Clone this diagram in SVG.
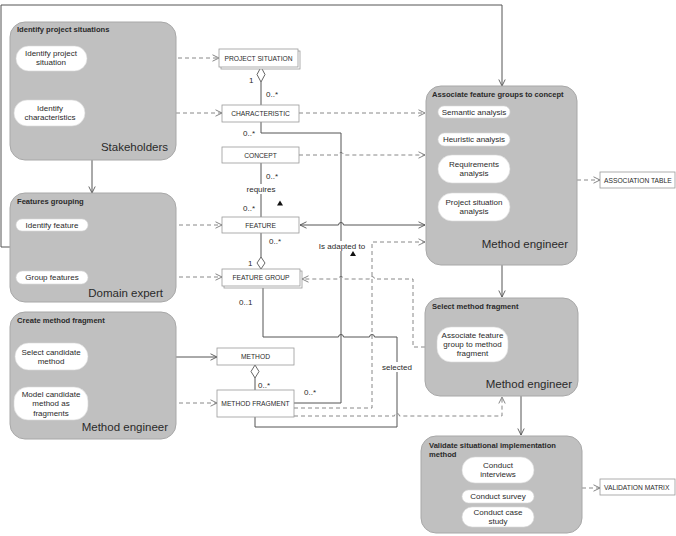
<svg xmlns="http://www.w3.org/2000/svg" width="676" height="536" viewBox="0 0 676 536">
<defs>
<marker id="arr" viewBox="0 0 8 8" refX="7.5" refY="4" markerWidth="8" markerHeight="8" markerUnits="userSpaceOnUse" orient="auto-start-reverse">
<path d="M1,0.8 L7.5,4 L1,7.2" fill="none" stroke="#555" stroke-width="0.9"/>
</marker>
<marker id="arrd" viewBox="0 0 8 8" refX="7.5" refY="4" markerWidth="8" markerHeight="8" markerUnits="userSpaceOnUse" orient="auto-start-reverse">
<path d="M1,0.8 L7.5,4 L1,7.2" fill="none" stroke="#777" stroke-width="0.9"/>
</marker>
</defs>
<style>
text{font-family:"Liberation Sans",Arial,sans-serif;fill:#2a2a2a}
.box{fill:#c0c0c0;stroke:#a8a8a8;stroke-width:1}
.pill{fill:#fff;stroke:#d8d8d8;stroke-width:0.6}
.cls{fill:#fff;stroke:#9a9a9a;stroke-width:0.8}
.title{font-size:7.6px;font-weight:bold}
.role{font-size:11.5px;text-anchor:end}
.pt{font-size:8px;text-anchor:middle}
.ct{font-size:6.7px;text-anchor:middle}
.cts{font-size:6.7px;text-anchor:start}
.lbl{font-size:8px}
.sol{fill:none;stroke:#555;stroke-width:1}
.dsh{fill:none;stroke:#7a7a7a;stroke-width:0.9;stroke-dasharray:4,3}
.dia{fill:#fff;stroke:#555;stroke-width:0.9}
</style>
<rect width="676" height="536" fill="#fff"/>

<g id="connectors">
<path class="sol" d="M10,247 H1 V5 H502 V86" marker-end="url(#arr)"/>
<path class="sol" d="M92,160 V193" marker-end="url(#arr)"/>
<path class="sol" d="M52,231 V271" marker-end="url(#arr)"/>
<path class="sol" d="M51,370 V387" marker-end="url(#arr)"/>
<path class="sol" d="M502,265 V297" marker-end="url(#arr)"/>
<path class="sol" d="M521,396 V435" marker-end="url(#arr)"/>
<path class="sol" d="M88,357 H217" marker-start="url(#arr)" marker-end="url(#arr)"/>
<path class="dsh" d="M87,58 H219" marker-end="url(#arrd)"/>
<path class="dsh" d="M85,113 H222" marker-end="url(#arrd)"/>
<path class="dsh" d="M88,225 H222" marker-end="url(#arrd)"/>
<path class="dsh" d="M88,277 H222" marker-end="url(#arrd)"/>
<path class="dsh" d="M88,403 H217" marker-end="url(#arrd)"/>
<path class="dsh" d="M577,180 H600" marker-end="url(#arrd)"/>
<path class="dsh" d="M582,488 H600" marker-end="url(#arrd)"/>
<path class="dsh" d="M299,113 H425" marker-end="url(#arrd)"/>
<path class="dsh" d="M299,155 H338.5 A2.5,2.5 0 0 1 343.5,155 H425" marker-end="url(#arrd)"/>
<path class="sol" d="M300,225 H338.5 A2.5,2.5 0 0 1 343.5,225 H425" marker-start="url(#arr)" marker-end="url(#arr)" stroke="#666"/>
<path class="dsh" d="M294,408 H372 V242 H425" marker-end="url(#arrd)"/>
<path class="dsh" d="M294,416 H394.5 A2.5,2.5 0 0 1 399.5,416 H502 V397" marker-end="url(#arrd)"/>
<path class="dsh" d="M425,347 H413 V279 H374.5 A2.5,2.5 0 0 0 369.5,279 H343.5 A2.5,2.5 0 0 0 338.5,279 H302" marker-end="url(#arrd)"/>
<path class="sol" d="M261,82 V105"/>
<path class="sol" d="M261,163 V217"/>
<path class="sol" d="M261,233 V257"/>
<path class="sol" d="M255,378 V390"/>
<path class="sol" d="M261,122 V133 H341 V403 H294"/>
<path class="sol" d="M263,286 V337 H338.5 A2.5,2.5 0 0 1 343.5,337 H369.5 A2.5,2.5 0 0 1 374.5,337 H397 V427 H255 V417"/>
<polygon class="dia" points="261,67 265,74.5 261,82 257,74.5"/>
<polygon class="dia" points="261,257 265,263 261,269 257,263"/>
<polygon class="dia" points="255,365 259,371.5 255,378 251,371.5"/>
<text class="lbl" x="249" y="83">1</text>
<text class="lbl" x="266" y="97">0..*</text>
<text class="lbl" x="243" y="136">0..*</text>
<text class="lbl" x="266" y="179">0..*</text>
<rect x="242" y="184" width="38" height="10" fill="#fff"/>
<text class="lbl" x="261" y="192" text-anchor="middle">requires</text>
<polygon points="280,200.5 283,205.5 277,205.5" fill="#111"/>
<text class="lbl" x="243" y="211">0..*</text>
<text class="lbl" x="269" y="244">0..*</text>
<text class="lbl" x="248" y="266">1</text>
<text class="lbl" x="239" y="305">0..1</text>
<rect x="318" y="241" width="48" height="10" fill="#fff"/>
<text class="lbl" x="342" y="249" text-anchor="middle">Is adapted to</text>
<polygon points="353,251 356,256 350,256" fill="#111"/>
<text class="lbl" x="258" y="388">0..*</text>
<text class="lbl" x="304" y="395">0..*</text>
<rect x="381" y="362" width="32" height="10" fill="#fff"/>
<text class="lbl" x="397" y="370" text-anchor="middle">selected</text>
</g>

<g id="identify-project-situations">
<rect class="box" x="10" y="22" width="166" height="138" rx="15"/>
<text class="title" x="17" y="32">Identify project situations</text>
<rect class="pill" x="16" y="46" width="71" height="25" rx="12.5"/>
<text class="pt" x="51" y="56">Identify project</text>
<text class="pt" x="51" y="65">situation</text>
<rect class="pill" x="14" y="100" width="71" height="26" rx="13"/>
<text class="pt" x="50" y="111">Identify</text>
<text class="pt" x="50" y="120">characteristics</text>
<text class="role" x="168" y="151">Stakeholders</text>
</g>

<g id="features-grouping">
<rect class="box" x="10" y="193" width="166" height="109" rx="15"/>
<text class="title" x="17" y="204">Features grouping</text>
<rect class="pill" x="16" y="219" width="72" height="12" rx="6"/>
<text class="pt" x="52" y="228">Identify feature</text>
<rect class="pill" x="16" y="271" width="72" height="13" rx="6.5"/>
<text class="pt" x="52" y="280">Group features</text>
<text class="role" x="163" y="297">Domain expert</text>
</g>

<g id="create-method-fragment">
<rect class="box" x="10" y="312" width="166" height="127" rx="15"/>
<text class="title" x="17" y="323">Create method fragment</text>
<rect class="pill" x="15" y="343" width="73" height="27" rx="13.5"/>
<text class="pt" x="51" y="355">Select candidate</text>
<text class="pt" x="51" y="364">method</text>
<rect class="pill" x="14" y="387" width="74" height="33" rx="14"/>
<text class="pt" x="51" y="397">Model candidate</text>
<text class="pt" x="51" y="406">method as</text>
<text class="pt" x="51" y="416">fragments</text>
<text class="role" x="168" y="431">Method engineer</text>
</g>

<g id="project-situation">
<rect class="cls" x="221" y="51" width="79" height="18"/>
<rect class="cls" x="219" y="49" width="79" height="18"/>
<text class="ct" x="258.5" y="61">PROJECT SITUATION</text>
</g>
<g id="characteristic">
<rect class="cls" x="222" y="105" width="77" height="17"/>
<text class="ct" x="260.5" y="116">CHARACTERISTIC</text>
</g>
<g id="concept">
<rect class="cls" x="222" y="147" width="77" height="16"/>
<text class="ct" x="260.5" y="157.5">CONCEPT</text>
</g>
<g id="feature">
<rect class="cls" x="222" y="217" width="77" height="16"/>
<text class="ct" x="260.5" y="227.5">FEATURE</text>
</g>
<g id="feature-group">
<rect class="cls" x="224" y="271" width="78" height="17"/>
<rect class="cls" x="222" y="269" width="78" height="17"/>
<text class="ct" x="261" y="280">FEATURE GROUP</text>
</g>
<g id="method">
<rect class="cls" x="217" y="348" width="77" height="17"/>
<text class="ct" x="255.5" y="359">METHOD</text>
</g>
<g id="method-fragment">
<rect class="cls" x="217" y="390" width="77" height="27"/>
<text class="ct" x="255.5" y="406">METHOD FRAGMENT</text>
</g>

<g id="associate-feature-groups">
<rect class="box" x="426" y="86" width="151" height="179" rx="15"/>
<text class="title" x="432" y="97">Associate feature groups to concept</text>
<rect class="pill" x="438" y="106" width="72" height="12" rx="6"/>
<text class="pt" x="474" y="115">Semantic analysis</text>
<rect class="pill" x="438" y="133" width="72" height="13" rx="6.5"/>
<text class="pt" x="474" y="142">Heuristic analysis</text>
<rect class="pill" x="438" y="155" width="72" height="28" rx="14"/>
<text class="pt" x="474" y="167">Requirements</text>
<text class="pt" x="474" y="176">analysis</text>
<rect class="pill" x="438" y="193" width="72" height="28" rx="14"/>
<text class="pt" x="474" y="205">Project situation</text>
<text class="pt" x="474" y="214">analysis</text>
<text class="role" x="568" y="248">Method engineer</text>
</g>

<g id="association-table">
<rect class="cls" x="600" y="172" width="75" height="16"/>
<text class="cts" x="604" y="182.5">ASSOCIATION TABLE</text>
</g>

<g id="select-method-fragment">
<rect class="box" x="425" y="298" width="153" height="98" rx="15"/>
<text class="title" x="432" y="309">Select method fragment</text>
<rect class="pill" x="437" y="327" width="71" height="35" rx="14"/>
<text class="pt" x="472.5" y="338">Associate feature</text>
<text class="pt" x="472.5" y="347">group to method</text>
<text class="pt" x="472.5" y="356">fragment</text>
<text class="role" x="572" y="388">Method engineer</text>
</g>

<g id="validate">
<rect class="box" x="421" y="436" width="161" height="97" rx="15"/>
<text class="title" x="429" y="448">Validate situational implementation</text>
<text class="title" x="429" y="457">method</text>
<rect class="pill" x="462" y="457" width="72" height="26" rx="13"/>
<text class="pt" x="498" y="468">Conduct</text>
<text class="pt" x="498" y="477">interviews</text>
<rect class="pill" x="462" y="490" width="72" height="13" rx="6.5"/>
<text class="pt" x="498" y="499">Conduct survey</text>
<rect class="pill" x="462" y="507" width="72" height="20" rx="10"/>
<text class="pt" x="498" y="515">Conduct case</text>
<text class="pt" x="498" y="524">study</text>
</g>

<g id="validation-matrix">
<rect class="cls" x="600" y="479" width="75" height="16"/>
<text class="cts" x="604" y="489.5">VALIDATION MATRIX</text>
</g>
</svg>
